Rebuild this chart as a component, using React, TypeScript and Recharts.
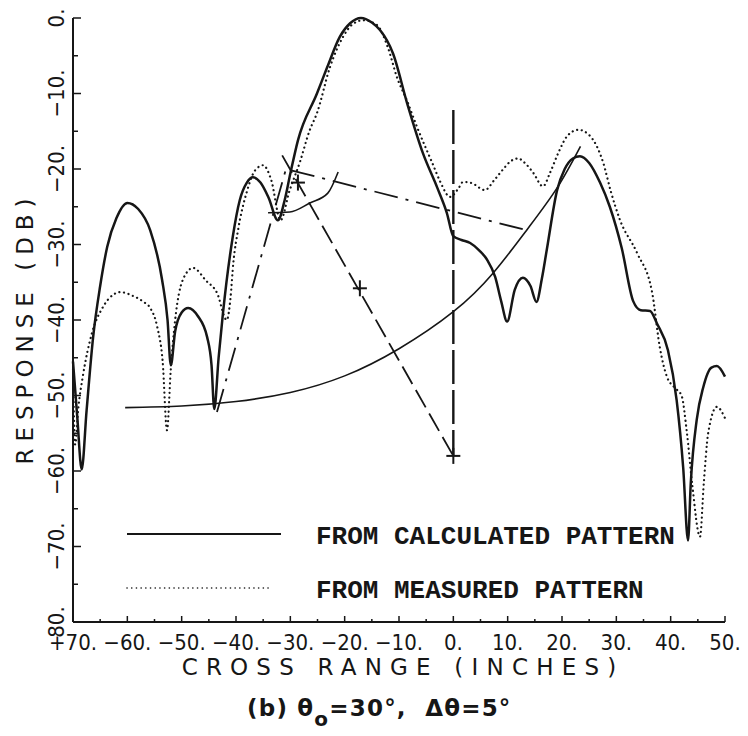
import { ComposedChart, Line, Scatter, XAxis, YAxis, Legend, Label } from "recharts";

// calculated pattern (solid)
const calcX = [-70, -69.2, -68.4, -67.5, -66.3, -65, -63.7, -62, -60, -58, -55.8, -53.6, -52.6, -52, -51.2, -50, -48.8, -47, -45.3, -44.5, -44, -43.2, -42.4, -40.6, -39.3, -38, -36.9, -35.5, -34, -32.3, -31, -30, -28.6, -25.1, -23.2, -20.9, -19, -17, -15, -13.5, -11.1, -8.5, -5.6, -3, -1.2, 0, 1.5, 3.1, 4.8, 6.2, 7.7, 8.8, 9.9, 11.3, 12.8, 14.2, 15.3, 16.3, 17.2, 19.1, 20.5, 22, 23.3, 25, 27, 28.8, 31, 33.1, 34.5, 36.2, 37.5, 39.5, 41.1, 42.3, 43.2, 43.7, 44.8, 46, 47.5, 48.5, 50];
const calcY = [-45.5, -53, -59.8, -52, -42.3, -35.5, -30.3, -26.5, -24.5, -25.3, -28.1, -34.7, -40, -46, -41.5, -39, -38.4, -39.5, -42.3, -46, -51.8, -45, -39.1, -29, -24.1, -21.8, -21.1, -21.8, -23.8, -26.8, -24, -20.6, -16.2, -10, -6.5, -2.5, -0.7, 0, -0.6, -1.6, -4.7, -11.3, -17.9, -22.4, -25.8, -28.9, -29.4, -29.8, -30.8, -32, -34.3, -37.5, -40.2, -36, -34.4, -35.5, -37.6, -34.5, -30.7, -22.8, -20, -18.6, -18.3, -19.2, -21.8, -25, -30.5, -37.5, -38.7, -38.8, -40.5, -44, -50.6, -59.5, -69.2, -61.6, -53.2, -48.9, -46.3, -46.1, -47.5];

// measured pattern (dotted)
const measX = [-70, -69.6, -69, -68.2, -66.5, -64.5, -62.5, -61.3, -59, -57, -55.8, -54.5, -53.5, -52.7, -52, -51.2, -49.8, -47.9, -45.5, -43.5, -41.7, -41, -40.5, -39.6, -38, -36.5, -35, -33.5, -31.8, -30.2, -28.2, -26.5, -25.1, -22.7, -20.3, -18.5, -16.6, -14.1, -12, -10.4, -8.5, -6.7, -3.7, -2.4, -0.6, 1, 1.8, 3.5, 5.8, 7.5, 9.1, 10.5, 11.9, 13.3, 14.7, 16.5, 17.8, 19.3, 21, 23, 25, 27.6, 29, 30.7, 33.8, 36.6, 38, 39.3, 40.8, 42, 43, 44, 45.4, 46.1, 46.9, 48.5, 50];
const measY = [-46.5, -56.5, -51.5, -47.5, -41.7, -38.3, -36.6, -36.3, -36.8, -37.6, -38.4, -40.9, -45.5, -54.6, -46.5, -40, -34.7, -33.1, -34.8, -36.4, -40, -37, -32.5, -28, -23, -20.2, -19.5, -21.5, -26.8, -23, -19, -15, -12.6, -6.5, -2.5, -0.8, -0.3, -0.9, -4, -7.8, -11, -14.4, -19.5, -21.7, -23.7, -22.5, -21.7, -21.9, -22.8, -21.5, -20.1, -19, -18.6, -19.3, -20.5, -22.3, -20.5, -17.9, -15.6, -14.8, -15.5, -19.2, -23, -26.8, -31.1, -36.4, -43.6, -47.5, -49, -50, -55, -62, -68.7, -61.6, -55, -51.5, -53];

// construction lines
const arcX = [-60.4, -50, -40, -30, -20, -10, 0, 7.3, 13.6, 19.1, 23.4];
const arcY = [-51.6, -51.4, -50.8, -49.6, -47.4, -43.8, -38.9, -33.8, -28, -22.5, -17];
const smallArcX = [-34.1, -30.1, -26.4, -23.1, -21.2];
const smallArcY = [-25.8, -25.7, -24.5, -23.2, -20.4];
const dashDotX = [-43.5, -30.8, 14];
const dashDotY = [-52.2, -20, -28.2];
const slantX = [-31.5, 0];
const slantY = [-18.2, -58];
const verticalX = [0, 0];
const verticalY = [-12.2, -58];
const markX = [-28.6, -17.2, 0];
const markY = [-21.8, -35.8, -58];

const xTicks = [-70, -65, -60, -55, -50, -45, -40, -35, -30, -25, -20, -15, -10, -5, 0, 5, 10, 15, 20, 25, 30, 35, 40, 45, 50];
const yTicks = [0, -5, -10, -15, -20, -25, -30, -35, -40, -45, -50, -55, -60, -65, -70, -75, -80];
const xLabels: Record<number, string> = { [-70]: "+70.", [-60]: "−60.", [-50]: "−50.", [-40]: "−40.", [-30]: "−30.", [-20]: "−20.", [-10]: "−10.", 0: "0.", 10: "10.", 20: "20.", 30: "30.", 40: "40.", 50: "50." };
const yLabels: Record<number, string> = { 0: "0.", [-10]: "−10.", [-20]: "−20.", [-30]: "−30.", [-40]: "−40.", [-50]: "−50.", [-60]: "−60.", [-70]: "−70.", [-80]: "80." };

const zip = (xs: number[], ys: number[]) => xs.map((x, i) => ({ x, y: ys[i] }));

const INK = "#161616";
const TICK_FONT = "'DejaVu Sans Condensed', 'DejaVu Sans', sans-serif";

function XTick(props: any) {
  const { x, y, payload } = props;
  const v = payload.value;
  const major = v % 10 === 0;
  return (
    <g>
      <line x1={x} x2={x} y1={y} y2={y - (major ? 6 : 3)} stroke={INK} strokeWidth={1.5} />
      {major && (
        <text x={x} y={y + 20} textAnchor="middle" dominantBaseline="central" fontFamily={TICK_FONT} fontSize={22} fill={INK}>
          {xLabels[v]}
        </text>
      )}
    </g>
  );
}

function YTick(props: any) {
  const { x, y, payload } = props;
  const v = payload.value;
  const major = v % 10 === 0;
  const cx = x - 17;
  return (
    <g>
      <line x1={x} x2={x + (major ? 8 : 5)} y1={y} y2={y} stroke={INK} strokeWidth={1.5} />
      {major && (
        <text x={cx} y={y} transform={`rotate(-90, ${cx}, ${y})`} textAnchor="middle" dominantBaseline="central" fontFamily={TICK_FONT} fontSize={22} fill={INK}>
          {yLabels[v]}
        </text>
      )}
    </g>
  );
}

function PlusMark(props: any) {
  const { cx, cy } = props;
  return (
    <g stroke={INK} strokeWidth={2}>
      <line x1={cx - 7} x2={cx + 7} y1={cy} y2={cy} />
      <line x1={cx} x2={cx} y1={cy - 8} y2={cy + 8} />
    </g>
  );
}

const legendRows = [
  { lineEnd: 161, y: 24 },
  { lineEnd: 149, y: 78 },
];

function PatternLegend(props: any) {
  const items = (props.payload || []).filter((p: any) => p.type !== "none");
  return (
    <svg width={600} height={100}>
      {items.map((item: any, i: number) => {
        const row = legendRows[i];
        return (
          <g key={item.value}>
            <line
              x1={7}
              x2={row.lineEnd}
              y1={row.y}
              y2={row.y}
              stroke={INK}
              strokeWidth={i === 0 ? 2 : 1.6}
              strokeDasharray={item.payload?.strokeDasharray}
              strokeLinecap={i === 0 ? "butt" : "round"}
            />
            <text x={196} y={row.y + 3} dominantBaseline="central" fontFamily="'Liberation Mono', monospace" fontWeight="bold" fontSize={26} fill={INK}>
              {item.value}
            </text>
          </g>
        );
      })}
    </svg>
  );
}

const titleStyle = {
  fontFamily: "'DejaVu Sans', sans-serif",
  fontSize: 23,
  letterSpacing: 8.2,
  fill: INK,
};

export default function App() {
  const lineCommon = { dot: false, activeDot: false, isAnimationActive: false, stroke: INK } as const;
  return (
    <div style={{ position: "absolute", left: 0, top: 0, width: 748, height: 736, background: "#fff" }}>
      <ComposedChart width={748} height={736} margin={{ top: 18, right: 23, left: 0, bottom: 0 }}>
        <XAxis
          type="number"
          dataKey="x"
          domain={[-70, 50]}
          ticks={xTicks}
          interval={0}
          height={114}
          tickSize={0}
          tickMargin={0}
          tick={<XTick />}
          axisLine={{ stroke: INK, strokeWidth: 2 }}
          tickLine={false}
        >
          <Label
            content={(p: any) => (
              <text
                x={p.viewBox.x + p.viewBox.width / 2 + 4}
                y={p.viewBox.y + 45}
                textAnchor="middle"
                dominantBaseline="central"
                style={titleStyle}
              >
                CROSS RANGE (INCHES)
              </text>
            )}
          />
        </XAxis>
        <YAxis
          type="number"
          dataKey="y"
          domain={[-80, 0]}
          ticks={yTicks}
          interval={0}
          width={73}
          tickSize={0}
          tickMargin={0}
          tick={<YTick />}
          axisLine={{ stroke: INK, strokeWidth: 2 }}
          tickLine={false}
        >
          <Label
            content={(p: any) => {
              const cx = 25;
              const cy = p.viewBox.y + p.viewBox.height / 2 + 8;
              return (
                <text
                  x={cx}
                  y={cy}
                  transform={`rotate(-90, ${cx}, ${cy})`}
                  textAnchor="middle"
                  dominantBaseline="central"
                  style={{ ...titleStyle, letterSpacing: 7 }}
                >
                  RESPONSE (DB)
                </text>
              );
            }}
          />
        </YAxis>

        <Line data={zip(arcX, arcY)} dataKey="y" type="natural" strokeWidth={1.6} legendType="none" {...lineCommon} />
        <Line data={zip(smallArcX, smallArcY)} dataKey="y" type="monotone" strokeWidth={1.6} legendType="none" {...lineCommon} />
        <Line data={zip(dashDotX, dashDotY)} dataKey="y" type="linear" strokeWidth={1.8} strokeDasharray="24 8 3 8" legendType="none" {...lineCommon} />
        <Line data={zip(slantX, slantY)} dataKey="y" type="linear" strokeWidth={1.8} strokeDasharray="20 7" legendType="none" {...lineCommon} />
        <Line data={zip(verticalX, verticalY)} dataKey="y" type="linear" strokeWidth={2.4} strokeDasharray="34 6" legendType="none" {...lineCommon} />
        <Scatter data={zip(markX, markY)} legendType="none" isAnimationActive={false} shape={<PlusMark />} />

        <Line
          name="FROM MEASURED PATTERN"
          data={zip(measX, measY)}
          dataKey="y"
          type="monotone"
          strokeWidth={2.2}
          strokeDasharray="0.1 4.6"
          strokeLinecap="round"
          {...lineCommon}
        />
        <Line name="FROM CALCULATED PATTERN" data={zip(calcX, calcY)} dataKey="y" type="monotone" strokeWidth={2.5} {...lineCommon} />

        <Legend
          layout="horizontal"
          verticalAlign="middle"
          align="center"
          content={<PatternLegend />}
          wrapperStyle={{ position: "absolute", left: 120, top: 510, width: 600, height: 100 }}
        />
      </ComposedChart>
      <div
        style={{
          position: "absolute",
          left: 247,
          top: 695,
          fontFamily: "'DejaVu Sans', sans-serif",
          fontWeight: "bold",
          fontSize: 23,
          letterSpacing: 1.2,
          color: INK,
          whiteSpace: "pre",
          lineHeight: "26px",
        }}
      >
        (b) θ<sub style={{ fontSize: 20, verticalAlign: "-10px", lineHeight: 0 }}>o</sub>=30°,  Δθ=5°
      </div>
    </div>
  );
}
